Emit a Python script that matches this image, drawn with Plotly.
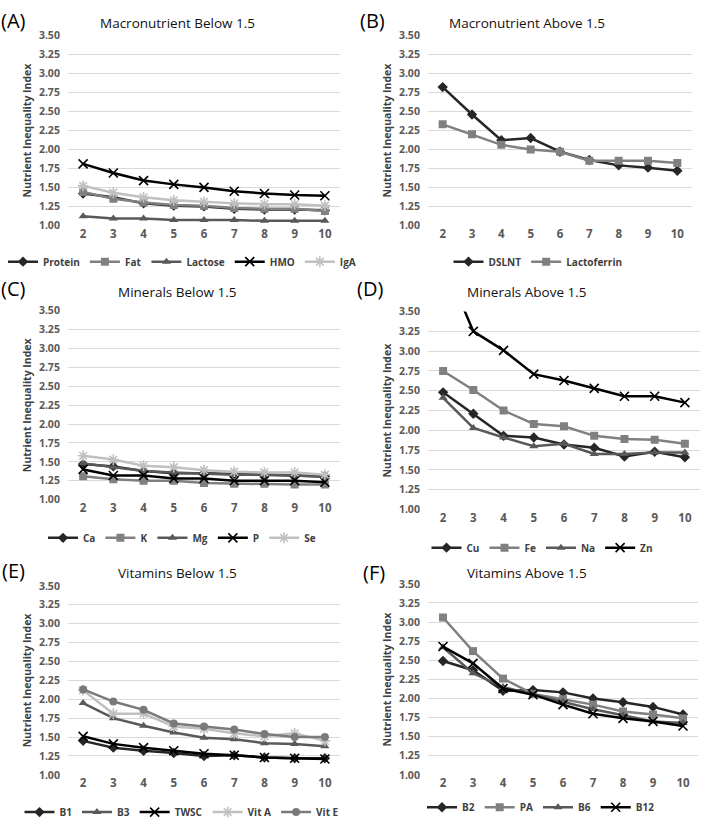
import plotly.graph_objects as go

W, H = 702, 827
x_vals = [2, 3, 4, 5, 6, 7, 8, 9, 10]
y_ticks = [1.00, 1.25, 1.50, 1.75, 2.00, 2.25, 2.50, 2.75, 3.00, 3.25, 3.50]

# Panel A
a_names = ["Protein", "Fat", "Lactose", "HMO", "IgA"]
a_protein = [1.42, 1.37, 1.29, 1.26, 1.25, 1.22, 1.21, 1.21, 1.20]
a_fat = [1.44, 1.35, 1.30, 1.27, 1.26, 1.23, 1.22, 1.22, 1.19]
a_lactose = [1.12, 1.09, 1.09, 1.07, 1.07, 1.07, 1.06, 1.06, 1.06]
a_hmo = [1.81, 1.69, 1.59, 1.54, 1.50, 1.45, 1.42, 1.40, 1.39]
a_iga = [1.52, 1.43, 1.37, 1.33, 1.31, 1.29, 1.28, 1.28, 1.26]

# Panel B
b_names = ["DSLNT", "Lactoferrin"]
b_dslnt = [2.82, 2.46, 2.12, 2.15, 1.97, 1.86, 1.79, 1.76, 1.72]
b_lactoferrin = [2.33, 2.20, 2.06, 2.00, 1.97, 1.85, 1.85, 1.85, 1.82]

# Panel C
c_names = ["Ca", "K", "Mg", "P", "Se"]
c_ca = [1.47, 1.44, 1.38, 1.35, 1.35, 1.34, 1.33, 1.32, 1.31]
c_k = [1.31, 1.27, 1.25, 1.25, 1.22, 1.21, 1.21, 1.20, 1.20]
c_mg = [1.48, 1.43, 1.38, 1.36, 1.35, 1.33, 1.33, 1.32, 1.30]
c_p = [1.40, 1.32, 1.32, 1.28, 1.28, 1.25, 1.25, 1.25, 1.23]
c_se = [1.58, 1.53, 1.45, 1.43, 1.39, 1.37, 1.36, 1.36, 1.33]

# Panel D
d_names = ["Cu", "Fe", "Na", "Zn"]
d_cu = [2.48, 2.21, 1.93, 1.91, 1.82, 1.78, 1.67, 1.73, 1.66]
d_fe = [2.75, 2.51, 2.25, 2.08, 2.05, 1.93, 1.89, 1.88, 1.83]
d_na = [2.41, 2.03, 1.91, 1.80, 1.83, 1.70, 1.70, 1.72, 1.72]
d_zn = [4.15, 3.25, 3.01, 2.71, 2.63, 2.53, 2.43, 2.43, 2.35]

# Panel E
e_names = ["B1", "B3", "TWSC", "Vit A", "Vit E"]
e_b1 = [1.45, 1.36, 1.32, 1.29, 1.25, 1.26, 1.23, 1.22, 1.22]
e_b3 = [1.95, 1.75, 1.65, 1.56, 1.49, 1.47, 1.42, 1.41, 1.38]
e_twsc = [1.51, 1.41, 1.36, 1.32, 1.28, 1.26, 1.23, 1.22, 1.21]
e_vita = [2.12, 1.81, 1.81, 1.64, 1.61, 1.55, 1.51, 1.55, 1.45]
e_vite = [2.13, 1.97, 1.86, 1.68, 1.64, 1.60, 1.54, 1.50, 1.50]

# Panel F
f_names = ["B2", "PA", "B6", "B12"]
f_b2 = [2.49, 2.37, 2.10, 2.11, 2.08, 2.00, 1.95, 1.89, 1.79]
f_pa = [3.06, 2.62, 2.26, 2.06, 1.99, 1.92, 1.83, 1.79, 1.74]
f_b6 = [2.67, 2.33, 2.15, 2.05, 1.96, 1.86, 1.78, 1.70, 1.68]
f_b12 = [2.68, 2.46, 2.13, 2.05, 1.92, 1.80, 1.74, 1.70, 1.64]

titles = ["Macronutrient Below 1.5", "Macronutrient Above 1.5", "Minerals Below 1.5",
          "Minerals Above 1.5", "Vitamins Below 1.5", "Vitamins Above 1.5"]
labels = ["(A)", "(B)", "(C)", "(D)", "(E)", "(F)"]

# styles: (color, symbol)
S_DIAMOND = ("#262626", "diamond")
S_SQUARE = ("#808080", "square")
S_TRI = ("#595959", "triangle-up")
S_X = ("#000000", "x-thin")
S_STAR = ("#c0c0c0", "asterisk")
S_CIRCLE = ("#7a7a7a", "circle")

panels = [
    (a_names, [a_protein, a_fat, a_lactose, a_hmo, a_iga], [S_DIAMOND, S_SQUARE, S_TRI, S_X, S_STAR]),
    (b_names, [b_dslnt, b_lactoferrin], [S_DIAMOND, S_SQUARE]),
    (c_names, [c_ca, c_k, c_mg, c_p, c_se], [S_DIAMOND, S_SQUARE, S_TRI, S_X, S_STAR]),
    (d_names, [d_cu, d_fe, d_na, d_zn], [S_DIAMOND, S_SQUARE, S_TRI, S_X]),
    (e_names, [e_b1, e_b3, e_twsc, e_vita, e_vite], [S_DIAMOND, S_TRI, S_X, S_STAR, S_CIRCLE]),
    (f_names, [f_b2, f_pa, f_b6, f_b12], [S_DIAMOND, S_SQUARE, S_TRI, S_X]),
]

# pixel layout: (x0, x1, ytop, ybot, title_y, label_x, label_y, ytitle_x, legend_y)
geo = [
    (68, 340, 29, 223, 16, 13, 14, 27, 260),
    (428, 692, 29, 223, 16, 372, 14, 387, 260),
    (68, 340, 310, 503, 291, 13, 287, 27, 542),
    (428, 700, 311, 513, 291, 370, 287, 387, 552),
    (68, 340, 591, 784, 578, 13, 575, 27, 822),
    (428, 698, 589, 784, 578, 374, 577, 387, 817),
]

FONT = "'Open Sans', Lato, sans-serif"
fig = go.Figure()
layout = dict(
    width=W, height=H, margin=dict(l=0, r=0, t=0, b=0),
    paper_bgcolor="white", plot_bgcolor="white",
    font=dict(family=FONT, color="#404040"),
    annotations=[],
)

def px(x):
    return x / W

def py(y):
    return 1 - y / H

for i, (names, series, styles) in enumerate(panels):
    n = i + 1
    xa = "x" if n == 1 else f"x{n}"
    ya = "y" if n == 1 else f"y{n}"
    lg = "legend" if n == 1 else f"legend{n}"
    x0, x1, yt, yb, ty, lx, ly, ytx, legy = geo[i]
    for name, vals, (col, sym) in zip(names, series, styles):
        is_line_sym = sym in ("x-thin", "asterisk")
        fig.add_trace(go.Scatter(
            x=x_vals, y=vals, name=name, mode="lines+markers",
            xaxis=xa, yaxis=ya, legend=lg,
            line=dict(color=col, width=2.5),
            marker=dict(symbol=sym, size=9 if is_line_sym else 8, color=col,
                        line=dict(color=col, width=1.6 if is_line_sym else 0)),
            cliponaxis=True,
        ))
    layout["xaxis" if n == 1 else f"xaxis{n}"] = dict(
        domain=[px(x0), px(x1)], range=[1.5, 10.5], anchor=ya,
        tickvals=x_vals, ticktext=[str(v) for v in x_vals],
        showgrid=False, zeroline=False, showline=False, ticks="",
        tickfont=dict(size=11.5, color="#595959", family=FONT, weight=700),
        fixedrange=True,
    )
    layout["yaxis" if n == 1 else f"yaxis{n}"] = dict(
        domain=[py(yb), py(yt)], range=[1.0, 3.5], anchor=xa,
        tickvals=y_ticks, ticktext=[f"{v:.2f}" for v in y_ticks],
        showgrid=True, gridcolor="#d9d9d9", gridwidth=1, zeroline=False,
        showline=False, ticks="outside", ticklen=5, tickcolor="rgba(0,0,0,0)",
        tickfont=dict(size=10.5, color="#595959", family=FONT, weight=700),
        fixedrange=True,
    )
    layout[lg] = dict(
        orientation="h", x=px((x0 + x1) / 2 - 22), y=py(legy), xanchor="center", yanchor="middle",
        font=dict(size=10, color="#404040", family=FONT, weight=700),
        bgcolor="rgba(0,0,0,0)", itemwidth=30, tracegroupgap=0,
    )
    cx = (x0 - 68 + 177) if i % 2 == 0 else (x0 - 428 + 527)
    layout["annotations"] += [
        dict(text=titles[i], x=px(cx), y=py(ty), xref="paper", yref="paper",
             xanchor="center", yanchor="middle", showarrow=False,
             font=dict(size=13.5, color="#111111", family=FONT)),
        dict(text=labels[i], x=px(lx), y=py(ly), xref="paper", yref="paper",
             xanchor="center", yanchor="middle", showarrow=False,
             font=dict(size=20, color="#000000", family="'Open Sans', sans-serif")),
        dict(text="Nutrient Inequality Index", x=px(ytx), y=py((yt + yb) / 2), xref="paper", yref="paper",
             xanchor="center", yanchor="middle", showarrow=False, textangle=-90,
             font=dict(size=10.5, color="#404040", family=FONT, weight=700)),
    ]

fig.update_layout(**layout)
fig.write_html("out.html")
